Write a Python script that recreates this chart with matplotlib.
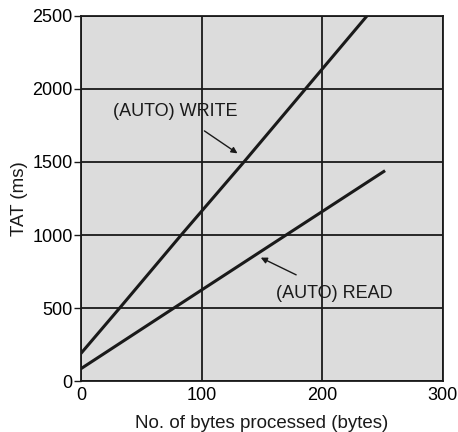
import matplotlib.pyplot as plt

plt.rcParams['font.family'] = ['Liberation Sans', 'DejaVu Sans']

# Данные
write_bytes = [0, 32, 83, 135, 186, 237]
write_tat = [190, 500, 1000, 1500, 2000, 2500]

read_bytes = [0, 77, 170, 251]
read_tat = [85, 500, 1000, 1435]

x_ticks = [0, 100, 200, 300]
y_ticks = [0, 500, 1000, 1500, 2000, 2500]

fig = plt.figure(figsize=(4.58, 4.32), dpi=100)
ax = fig.add_axes([0.177, 0.118, 0.79, 0.845])
ax.set_facecolor('#dcdcdc')

ax.plot(write_bytes, write_tat, color='#1a1a1a', lw=2.2)
ax.plot(read_bytes, read_tat, color='#1a1a1a', lw=2.2)

ax.set_xlim(0, 300)
ax.set_ylim(0, 2500)
ax.set_xticks(x_ticks)
ax.set_yticks(y_ticks)
ax.grid(True, color='#1a1a1a', lw=1.3)
ax.set_axisbelow(True)
for s in ax.spines.values():
    s.set_color('#1a1a1a')
    s.set_linewidth(1.3)

ax.tick_params(axis='y', length=5, width=1, labelsize=13, pad=1, color='#1a1a1a')
ax.tick_params(axis='x', length=0, labelsize=13, pad=4)

ax.set_xlabel('No. of bytes processed (bytes)', fontsize=13.5, labelpad=8, color='#1a1a1a')
ax.set_ylabel('TAT (ms)', fontsize=13.5, labelpad=3, color='#1a1a1a')

ax.annotate('(AUTO) WRITE', xy=(129.7, 1559), xytext=(78, 1849),
            ha='center', va='center', fontsize=13, color='#1a1a1a',
            arrowprops=dict(arrowstyle='-|>', color='#1a1a1a', lw=1,
                            mutation_scale=9, shrinkA=11, shrinkB=0))
ax.annotate('(AUTO) READ', xy=(149, 845), xytext=(210, 600),
            ha='center', va='center', fontsize=13, color='#1a1a1a',
            arrowprops=dict(arrowstyle='-|>', color='#1a1a1a', lw=1,
                            mutation_scale=9, shrinkA=12, shrinkB=0))

plt.savefig('out.png', dpi=100)
